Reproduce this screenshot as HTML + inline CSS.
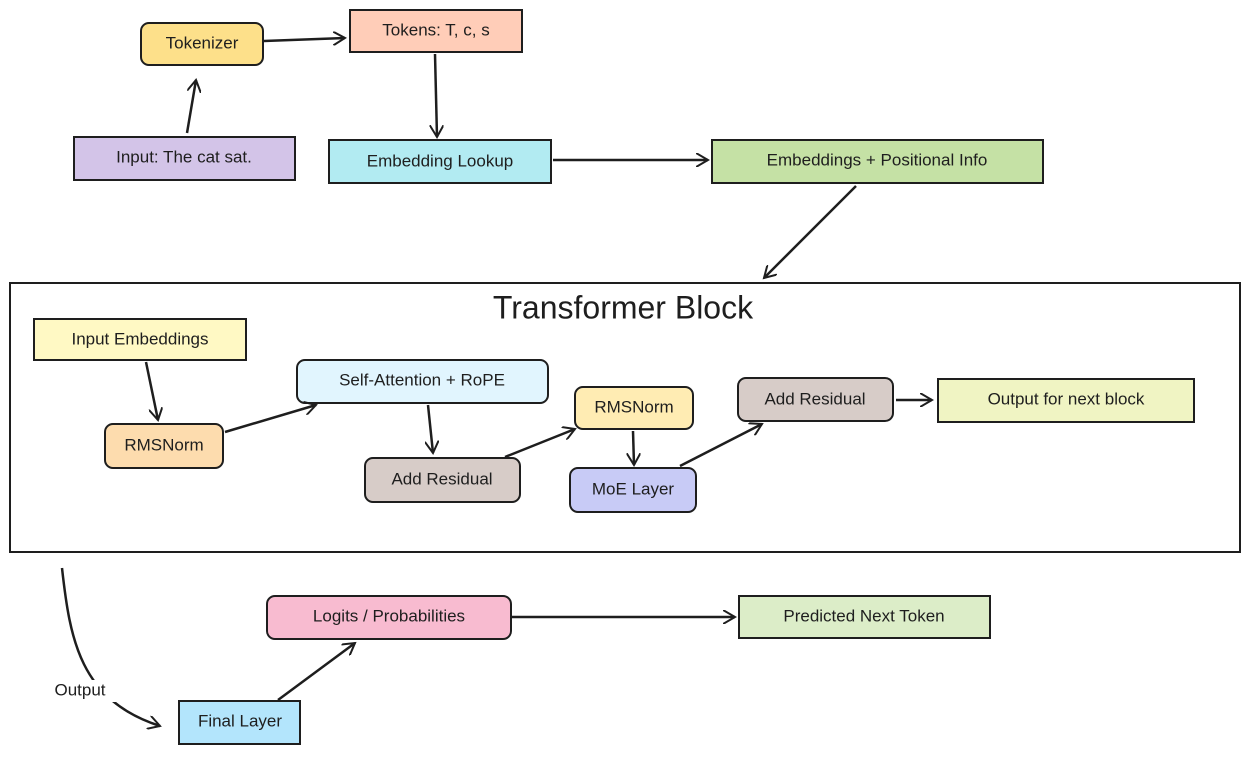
<!DOCTYPE html>
<html><head><meta charset="utf-8"><style>
body{margin:0;background:#fff;}
svg text{font-family:"Liberation Sans",sans-serif;font-size:17px;fill:#1e1e1e;text-anchor:middle;dominant-baseline:middle;}
</style></head><body>
<svg width="1250" height="755" viewBox="0 0 1250 755" xmlns="http://www.w3.org/2000/svg">
<defs><marker id="a" markerWidth="14" markerHeight="14" refX="12" refY="7" orient="auto" markerUnits="userSpaceOnUse"><path d="M0,0 L12,7 L0,14" fill="none" stroke="#1e1e1e" stroke-width="2"/></marker></defs>
<g stroke="#1e1e1e" stroke-width="2">
<rect x="141" y="23" width="122" height="42" rx="8" fill="#fde08a"/>
<rect x="350" y="10" width="172" height="42" fill="#ffcdb8"/>
<rect x="74" y="137" width="221" height="43" fill="#d3c4e8"/>
<rect x="329" y="140" width="222" height="43" fill="#b2ebf2"/>
<rect x="712" y="140" width="331" height="43" fill="#c5e1a5"/>
<rect x="10" y="283" width="1230" height="269" fill="none"/>
<rect x="34" y="319" width="212" height="41" fill="#fff9c4"/>
<rect x="105" y="424" width="118" height="44" rx="8" fill="#fddcae"/>
<rect x="297" y="360" width="251" height="43" rx="8" fill="#e1f5fe"/>
<rect x="365" y="458" width="155" height="44" rx="8" fill="#d7ccc8"/>
<rect x="575" y="387" width="118" height="42" rx="8" fill="#ffecb3"/>
<rect x="570" y="468" width="126" height="44" rx="8" fill="#c8cbf6"/>
<rect x="738" y="378" width="155" height="43" rx="8" fill="#d7ccc8"/>
<rect x="938" y="379" width="256" height="43" fill="#f0f4c3"/>
<rect x="267" y="596" width="244" height="43" rx="8" fill="#f8bbd0"/>
<rect x="739" y="596" width="251" height="42" fill="#dcedc8"/>
<rect x="179" y="701" width="121" height="43" fill="#b3e5fc"/>
</g>
<g stroke="#1e1e1e" stroke-width="2.5" fill="none" marker-end="url(#a)">
<path d="M187,133 L196,80"/>
<path d="M264,41 L345,38"/>
<path d="M435,54 L437,137"/>
<path d="M553,160 L708,160"/>
<path d="M856,186 L764,278"/>
<path d="M146,362 L158,420"/>
<path d="M225,432 L316,405"/>
<path d="M428,405 L433,453"/>
<path d="M505,457 L575,429"/>
<path d="M633,431 L634,465"/>
<path d="M680,466 L762,424"/>
<path d="M896,400 L932,400"/>
<path d="M62,568 C70,640 80,700 160,726"/>
<path d="M278,700 L355,643"/>
<path d="M512,617 L735,617"/>
</g>
<rect x="46" y="680" width="70" height="22" fill="#fff"/>
<text x="202" y="44">Tokenizer</text>
<text x="436" y="31">Tokens: T, c, s</text>
<text x="184" y="158">Input: The cat sat.</text>
<text x="440" y="162">Embedding Lookup</text>
<text x="877" y="161">Embeddings + Positional Info</text>
<text x="623" y="310" style="font-size:32px">Transformer Block</text>
<text x="140" y="340">Input Embeddings</text>
<text x="164" y="446">RMSNorm</text>
<text x="422" y="381">Self-Attention + RoPE</text>
<text x="442" y="480">Add Residual</text>
<text x="634" y="408">RMSNorm</text>
<text x="633" y="490">MoE Layer</text>
<text x="815" y="400">Add Residual</text>
<text x="1066" y="400">Output for next block</text>
<text x="389" y="617">Logits / Probabilities</text>
<text x="864" y="617">Predicted Next Token</text>
<text x="240" y="722">Final Layer</text>
<text x="80" y="691">Output</text>
</svg>
</body></html>
